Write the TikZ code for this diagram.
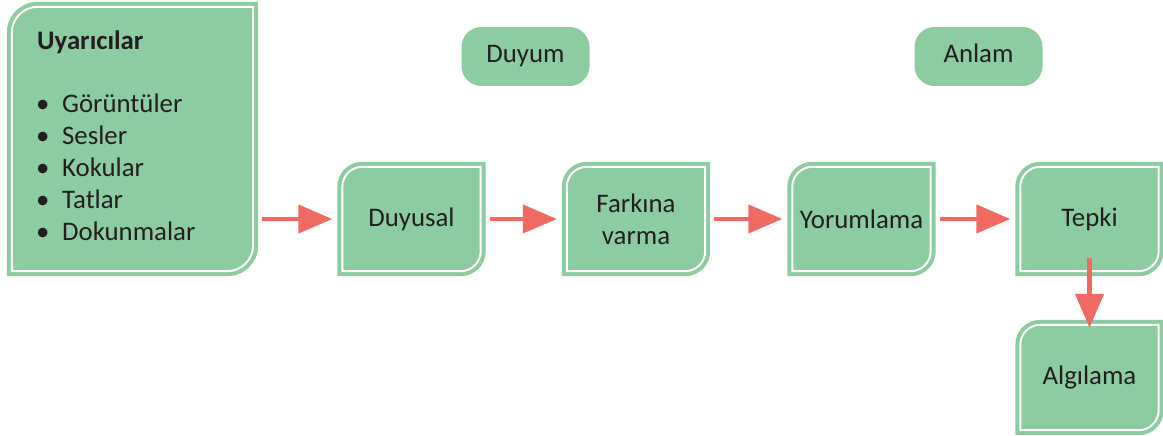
\documentclass[tikz,border=0pt]{standalone}
\usepackage{fontspec}
\setmainfont{Carlito}
\usetikzlibrary{arrows.meta,backgrounds}
\definecolor{boxgreen}{HTML}{8DCBA1}
\definecolor{arrred}{HTML}{EF6A62}
\definecolor{txt}{HTML}{231F20}
\newcommand\leafbox[3]{%
  \fill[boxgreen] (#1.south west) -- ([yshift=-#2pt]#1.north west)
    arc[start angle=180,end angle=90,radius=#2pt] -- (#1.north east)
    -- ([yshift=#2pt]#1.south east)
    arc[start angle=0,end angle=-90,radius=#2pt] -- cycle;
  \draw[white,line width=2pt] ([shift={(5pt,5pt)}]#1.south west)
    -- ([shift={(5pt,-#2pt)}]#1.north west)
    arc[start angle=180,end angle=90,radius=#3pt]
    -- ([shift={(-5pt,-5pt)}]#1.north east)
    -- ([shift={(-5pt,#2pt)}]#1.south east)
    arc[start angle=0,end angle=-90,radius=#3pt] -- cycle;
}
\tikzset{
  every node/.style={text=txt,font=\fontsize{26.8}{32}\selectfont},
  stagebox/.style={inner sep=0pt,minimum width=148pt,minimum height=114pt,align=center},
  pill/.style={fill=boxgreen,rounded corners=20pt,inner sep=0pt,minimum width=128pt,minimum height=59pt,text height=18pt,text depth=5pt},
  arr/.style={draw=arrred,line width=4.5pt,-{Triangle[length=34pt,width=28pt]},shorten <=4pt,shorten >=5pt},
  listitem/.style={anchor=base west,inner sep=0pt},
}
\begin{document}
\begin{tikzpicture}[x=1pt,y=1pt]
\useasboundingbox (0,0) rectangle (1163,436);
% stimulus box
\node[inner sep=0pt,minimum width=251pt,minimum height=274pt] (u) at (132.5,297) {};
\node[listitem,font=\fontsize{26.8}{32}\selectfont\bfseries] (ut) at (37,386) {Uyarıcılar};
\node[listitem] (b1) at (36,323) {\makebox[26pt][l]{•}Görüntüler};
\node[listitem] (b2) at (36,291) {\makebox[26pt][l]{•}Sesler};
\node[listitem] (b3) at (36,259) {\makebox[26pt][l]{•}Kokular};
\node[listitem] (b4) at (36,227) {\makebox[26pt][l]{•}Tatlar};
\node[listitem] (b5) at (36,195) {\makebox[26pt][l]{•}Dokunmalar};
% stage boxes
\node[stagebox] (d) at (411.5,217) {Duyusal};
\node[stagebox] (f) at (636,217) {Farkına\\varma};
\node[stagebox] (y) at (861.5,217) {Yorumlama};
\node[stagebox] (t) at (1089.5,217) {Tepki};
\node[stagebox,minimum height=115pt] (a) at (1089.5,58.5) {Algılama};
% pills
\node[pill] (p1) at (525.5,379.5) {Duyum};
\node[pill] (p2) at (978.5,379.5) {Anlam};
\begin{scope}[on background layer]
\leafbox{u}{31}{26}
\leafbox{d}{25}{20}
\leafbox{f}{25}{20}
\leafbox{y}{25}{20}
\leafbox{t}{25}{20}
\leafbox{a}{25}{20}
\end{scope}
% arrows
\draw[arr] (u.east |- d.west) -- (d.west);
\draw[arr] (d) -- (f);
\draw[arr] (f) -- (y);
\draw[arr] (y) -- (t);
\draw[arr,shorten <=0pt,shorten >=0pt] ([yshift=18pt]t.south) -- ([yshift=-8pt]a.north);
\end{tikzpicture}
\end{document}
